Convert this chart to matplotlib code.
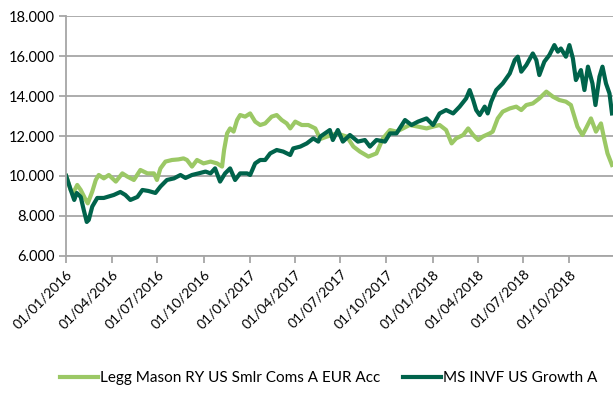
import matplotlib
matplotlib.use("Agg")
import matplotlib.pyplot as plt
import matplotlib.dates as mdates
from matplotlib.ticker import FuncFormatter
import numpy as np
import pandas as pd

start = pd.Timestamp("2016-01-01")

# MS INVF US Growth A  (days since 01/01/2016, value in thousands)
ms_days = [0, 9, 16, 21, 29, 35, 41, 45, 52, 62, 75, 95, 108, 118, 128, 142, 152, 164,
           178, 188, 201, 215, 228, 238, 251, 264, 278, 288, 297, 307, 317, 327, 337,
           347, 361, 367, 377, 387, 397, 407, 420, 433, 447, 453, 467, 480, 493, 503,
           507, 526, 532, 542, 552, 566, 582, 596, 606, 619, 636, 646, 659, 676, 689,
           702, 719, 732, 745, 758, 772, 785, 798, 805, 812, 818, 825, 835, 841, 848,
           858, 871, 885, 895, 901, 908, 918, 931, 938, 944, 954, 964, 974, 981, 987,
           997, 1004, 1011, 1017, 1027, 1034, 1041, 1050, 1056, 1064, 1070, 1077,
           1084, 1089]
ms_vals = [10.0, 9.3, 8.8, 9.15, 8.95, 8.3, 7.7, 7.8, 8.47, 8.9, 8.9, 9.05, 9.2, 9.05,
           8.8, 8.95, 9.3, 9.25, 9.15, 9.47, 9.8, 9.88, 10.05, 9.9, 10.05, 10.13, 10.22,
           10.13, 10.38, 9.72, 10.13, 10.38, 9.8, 10.13, 10.13, 10.05, 10.63, 10.8,
           10.8, 11.13, 11.3, 11.22, 11.05, 11.38, 11.47, 11.63, 11.88, 11.72, 11.97,
           12.3, 11.8, 12.3, 11.72, 12.05, 11.72, 11.8, 11.47, 11.8, 11.72, 12.13,
           12.13, 12.8, 12.55, 12.72, 12.88, 12.55, 13.13, 13.3, 13.13, 13.47, 13.88,
           14.3, 13.8, 13.3, 13.05, 13.47, 13.13, 13.72, 14.3, 14.63, 15.13, 15.8,
           15.97, 15.22, 15.55, 16.13, 15.8, 15.05, 15.72, 16.05, 16.55, 16.22, 16.38,
           15.97, 16.55, 15.88, 14.8, 15.3, 14.3, 15.47, 14.63, 13.55, 14.97, 15.47,
           14.63, 14.13, 13.13]

# Legg Mason RY US Smlr Coms A EUR Acc
lm_days = [0, 9, 14, 22, 29, 39, 43, 52, 59, 65, 75, 85, 99, 112, 122, 135, 148, 162,
           175, 181, 188, 198, 211, 224, 234, 241, 251, 261, 274, 288, 301, 311, 315,
           321, 327, 334, 341, 347, 357, 367, 377, 387, 397, 410, 420, 430, 440, 447,
           457, 470, 483, 497, 507, 520, 540, 560, 573, 586, 603, 619, 632, 646, 659,
           672, 685, 702, 719, 732, 745, 758, 769, 778, 792, 802, 812, 822, 831, 845,
           851, 861, 871, 885, 898, 908, 918, 931, 944, 958, 971, 984, 997, 1007,
           1014, 1020, 1030, 1037, 1047, 1057, 1067, 1074, 1080, 1089]
lm_vals = [10.0, 9.3, 9.15, 9.55, 9.3, 8.8, 8.63, 9.22, 9.8, 10.05, 9.88, 10.05, 9.72,
           10.13, 9.97, 9.8, 10.3, 10.13, 10.13, 9.8, 10.38, 10.72, 10.8, 10.83, 10.88,
           10.8, 10.47, 10.8, 10.63, 10.72, 10.63, 10.47, 11.3, 12.13, 12.38, 12.22,
           12.8, 13.05, 12.97, 13.13, 12.72, 12.55, 12.63, 12.97, 13.05, 12.8, 12.63,
           12.38, 12.72, 12.55, 12.55, 12.38, 11.85, 11.97, 12.13, 11.97, 11.47, 11.22,
           10.97, 11.13, 11.88, 12.3, 12.22, 12.38, 12.55, 12.47, 12.38, 12.47, 12.55,
           12.3, 11.63, 11.88, 12.05, 12.38, 12.05, 11.8, 11.97, 12.13, 12.22, 12.88,
           13.22, 13.38, 13.47, 13.3, 13.55, 13.63, 13.88, 14.22, 13.97, 13.8, 13.72,
           13.55, 12.97, 12.47, 12.05, 12.38, 12.88, 12.22, 12.63, 11.8, 11.13, 10.55]

labels = ["Legg Mason RY US Smlr Coms A EUR Acc", "MS INVF US Growth A"]
tick_dates = pd.date_range("2016-01-01", "2018-10-01", freq="3MS")

plt.rcParams['font.family'] = ['Lato', 'DejaVu Sans']
grey = '#a6a6a6'

fig = plt.figure(figsize=(6.13, 4.03), dpi=100)
ax = fig.add_axes([0.108, 0.365, 0.892, 0.595])

lm_x = start + pd.to_timedelta(lm_days, unit="D")
ms_x = start + pd.to_timedelta(ms_days, unit="D")
ax.plot(lm_x, lm_vals, color='#9bc865', lw=3, label=labels[0])
ax.plot(ms_x, ms_vals, color='#00634b', lw=3, label=labels[1])

ax.set_ylim(6, 18)
ax.set_yticks(np.arange(6, 19, 2))
ax.yaxis.set_major_formatter(FuncFormatter(lambda v, p: f"{v*1000:,.0f}".replace(',', '.')))
ax.set_xlim(start, start + pd.Timedelta(days=1091))
ax.set_xticks(tick_dates)
ax.xaxis.set_major_formatter(mdates.DateFormatter("%d/%m/%Y"))
plt.setp(ax.get_xticklabels(), rotation=45, ha='right', rotation_mode='anchor')

ax.grid(axis='y', color=grey, lw=1.3)
ax.set_axisbelow(True)
for s in ['top', 'right']:
    ax.spines[s].set_visible(False)
for s in ['left', 'bottom']:
    ax.spines[s].set_color(grey)
    ax.spines[s].set_linewidth(1.3)
ax.tick_params(axis='both', colors=grey, length=5, width=1.3, labelcolor='black')
ax.tick_params(axis='y', labelsize=10.5)
ax.tick_params(axis='x', labelsize=10)

ax.legend(loc='center', bbox_to_anchor=(0.48, -0.51), ncol=2, frameon=False,
          fontsize=11, handlelength=2.5, handletextpad=0.1, columnspacing=1.5)

fig.savefig("out.png", dpi=100)
